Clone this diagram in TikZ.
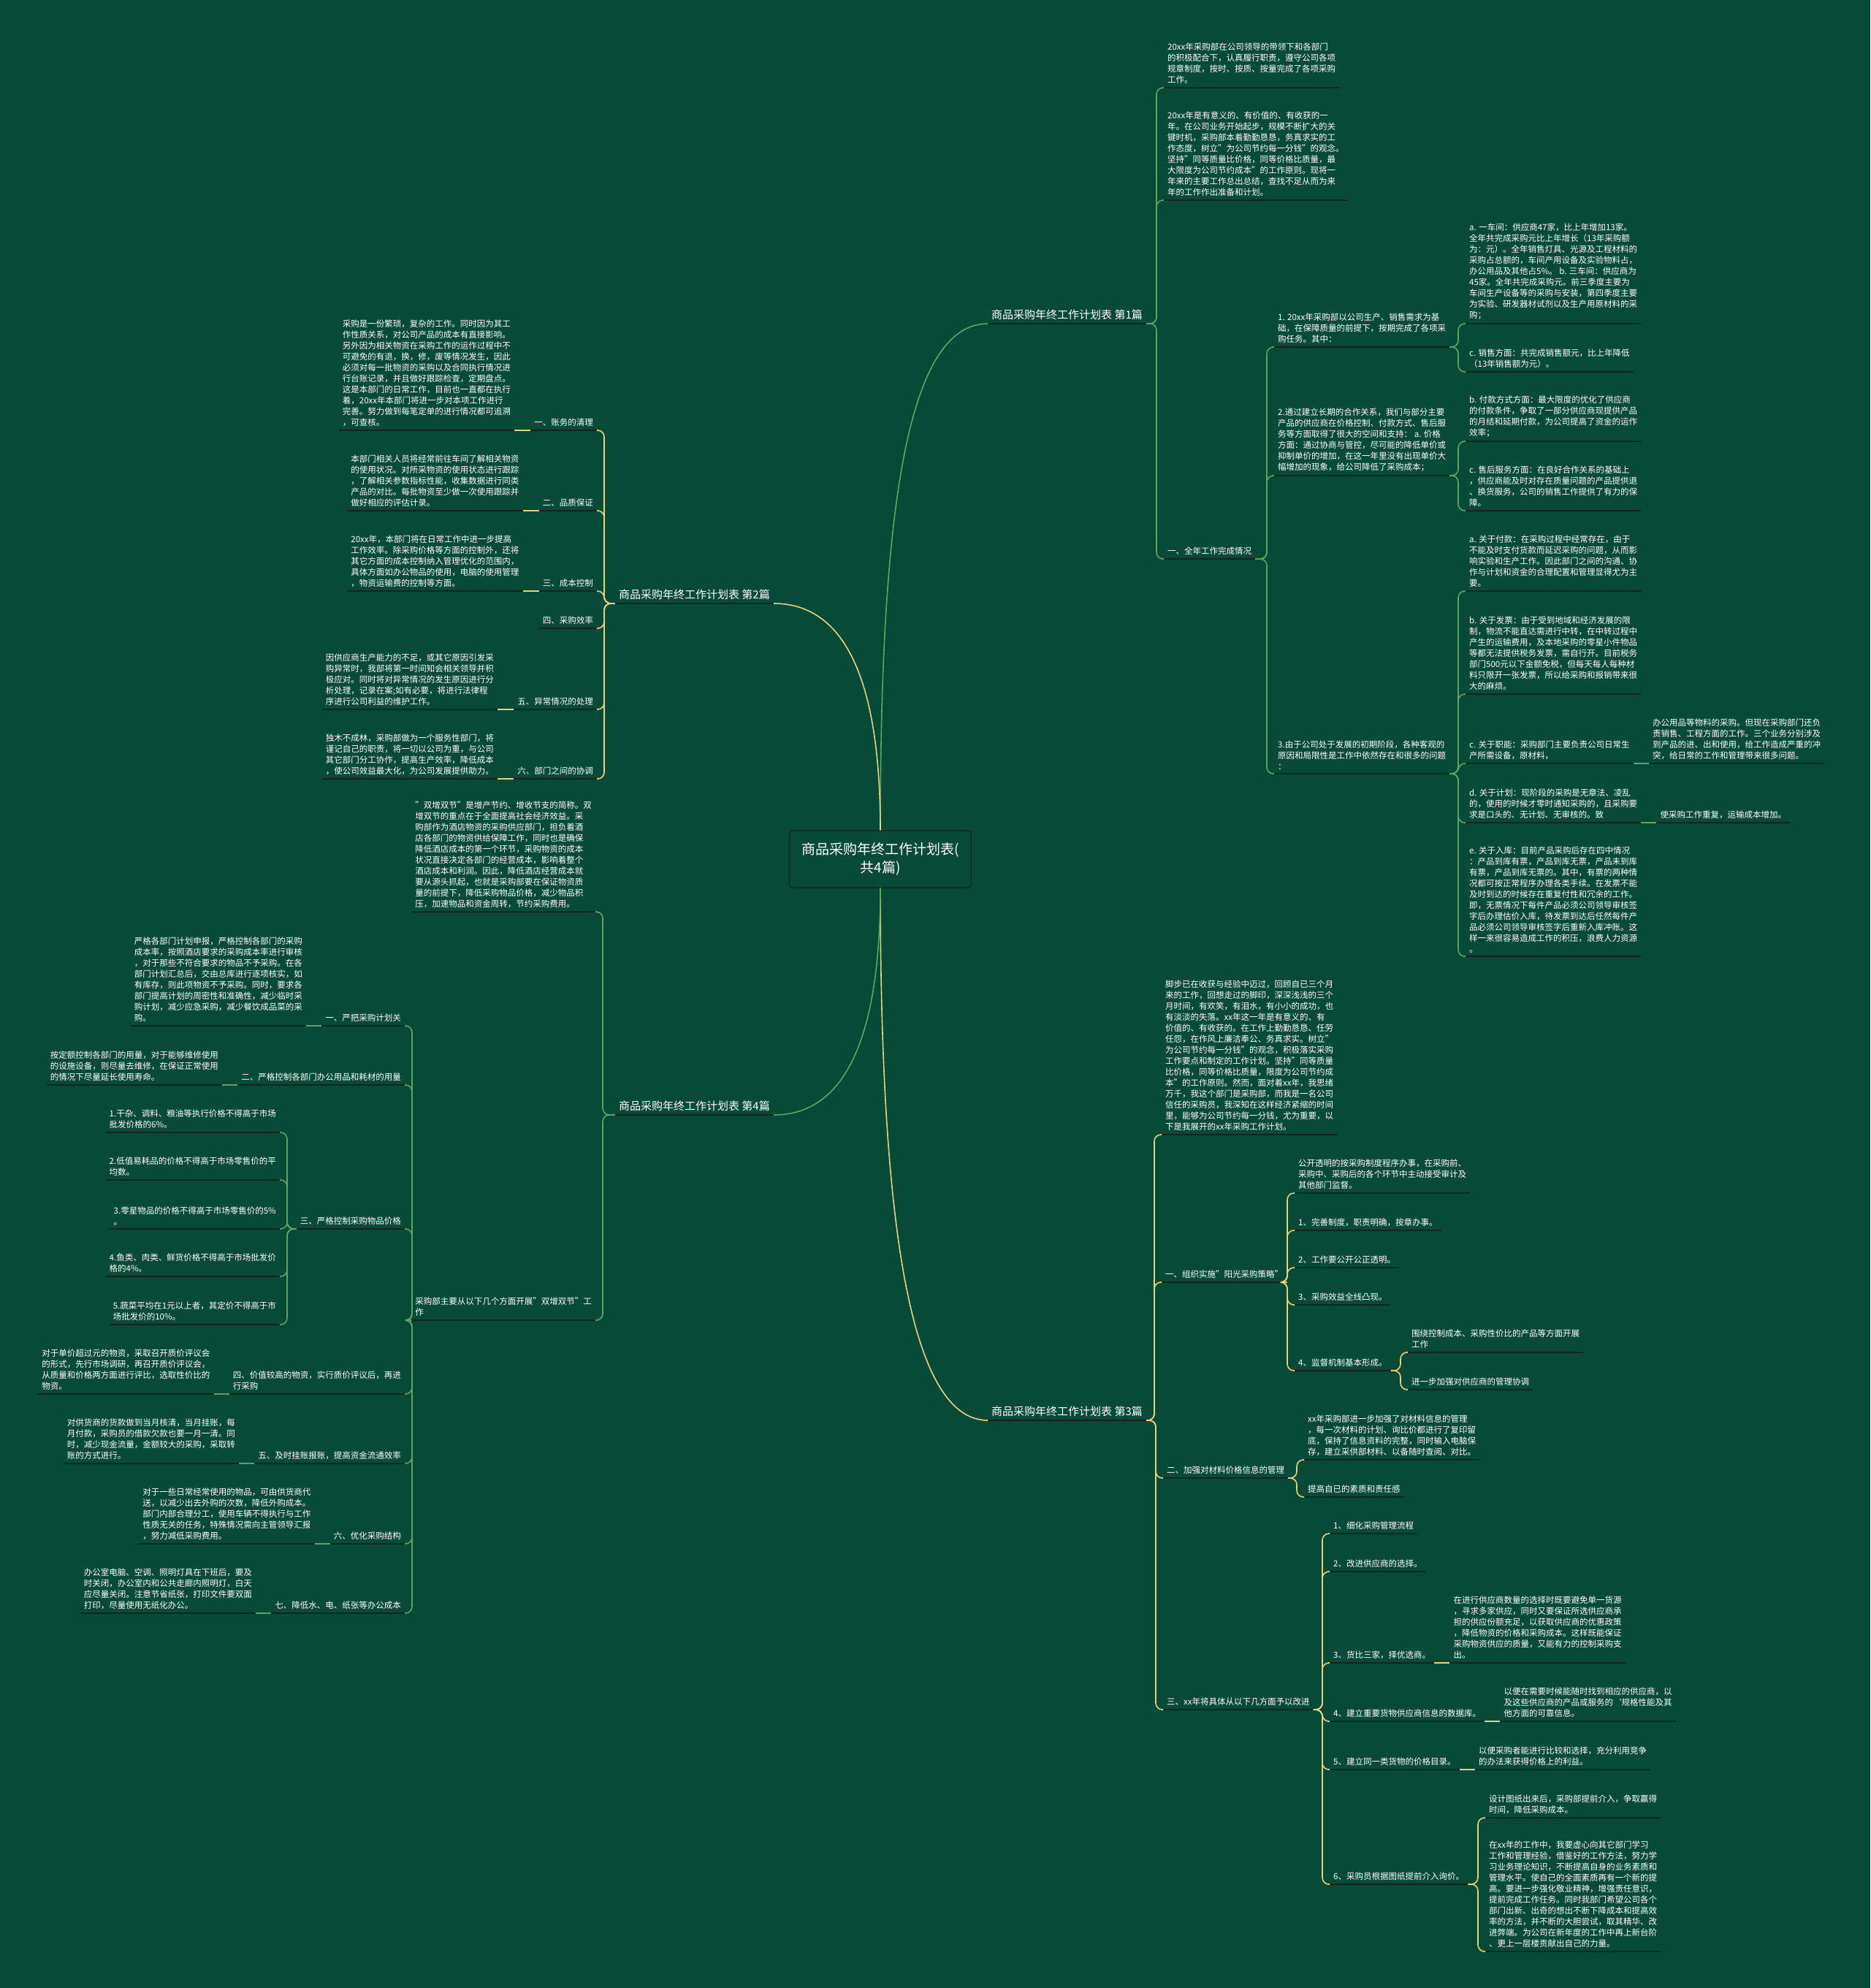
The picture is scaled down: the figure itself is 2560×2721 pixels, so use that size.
\documentclass[tikz,border=0pt]{standalone}
\usepackage{fontspec}
\setmainfont{Noto Sans CJK SC}
\usepackage{tikz}
\definecolor{bgclr}{HTML}{074A38}
\definecolor{ulclr}{HTML}{13251D}
\definecolor{grnclr}{HTML}{5FA463}
\definecolor{yelclr}{HTML}{E6D27E}

\begin{document}
\begin{tikzpicture}[x=1pt,y=-1pt,
  ul/.style={draw=ulclr,line width=2pt},
  tx/.style={align=left,text=white,inner xsep=5pt,inner ysep=5pt,font=\fontsize{11.5}{15}\selectfont,
    append after command={(\tikzlastnode.south west) edge[ul] (\tikzlastnode.south east)}},
  hd/.style={tx,font=\fontsize{15}{19}\selectfont},
  rootbox/.style={draw=ulclr,fill=bgclr,line width=1.2pt,rounded corners=4pt,align=center,text=white,
    font=\fontsize{19}{25}\selectfont,minimum width=249pt,minimum height=78pt},
  lkg/.style={draw=grnclr,line width=1.6pt,rounded corners=9pt},
  lky/.style={draw=yelclr,line width=1.6pt,rounded corners=9pt}]
\fill[bgclr] (0,0) rectangle (2560,2721);
\node[rootbox] (root) at (1205,1176) {商品采购年终工作计划表(\\共4篇)};

\node[hd,anchor=south west] (h1) at (1352,443) {商品采购年终工作计划表 第1篇};
\node[tx,anchor=south west] (a1) at (1593,120) {20xx年采购部在公司领导的带领下和各部门\\的积极配合下，认真履行职责，遵守公司各项\\规章制度，按时、按质、按量完成了各项采购\\工作。};
\node[tx,anchor=south west] (a2) at (1593,274) {20xx年是有意义的、有价值的、有收获的一\\年。在公司业务开始起步，规模不断扩大的关\\键时机，采购部本着勤勤恳恳，务真求实的工\\作态度，树立"为公司节约每一分钱"的观念。\\坚持"同等质量比价格，同等价格比质量，最\\大限度为公司节约成本"的工作原则。现将一\\年来的主要工作总出总结，查找不足从而为来\\年的工作作出准备和计划。};
\node[tx,anchor=south west] (a3) at (1593,765) {一、全年工作完成情况};
\node[tx,anchor=south west] (a31) at (1744,475) {1. 20xx年采购部以公司生产、销售需求为基\\础，在保障质量的前提下，按期完成了各项采\\购任务。其中：};
\node[tx,anchor=south west] (a32) at (1744,651) {2.通过建立长期的合作关系，我们与部分主要\\产品的供应商在价格控制、付款方式、售后服\\务等方面取得了很大的空间和支持： a. 价格\\方面：通过协商与管控，尽可能的降低单价或\\抑制单价的增加，在这一年里没有出现单价大\\幅增加的现象，给公司降低了采购成本；};
\node[tx,anchor=south west] (a33) at (1744,1059) {3.由于公司处于发展的初期阶段，各种客观的\\原因和局限性是工作中依然存在和很多的问题\\：};
\node[tx,anchor=south west] (a311) at (2006,443) {a. 一车间：供应商47家，比上年增加13家。\\全年共完成采购元比上年增长（13年采购额\\为：元）。全年销售灯具、光源及工程材料的\\采购占总额的，车间产用设备及实验物料占，\\办公用品及其他占5\%。 b. 三车间：供应商为\\45家。全年共完成采购元。前三季度主要为\\车间生产设备等的采购与安装，第四季度主要\\为实验、研发器材试剂以及生产用原材料的采\\购；};
\node[tx,anchor=south west] (a312) at (2006,509) {c. 销售方面：共完成销售额元，比上年降低\\（13年销售额为元）。};
\node[tx,anchor=south west] (a321) at (2006,604) {b. 付款方式方面：最大限度的优化了供应商\\的付款条件，争取了一部分供应商现提供产品\\的月结和延期付款，为公司提高了资金的运作\\效率；};
\node[tx,anchor=south west] (a322) at (2006,699) {c. 售后服务方面：在良好合作关系的基础上\\，供应商能及时对存在质量问题的产品提供退\\、换货服务，公司的销售工作提供了有力的保\\障。};
\node[tx,anchor=south west] (a331) at (2006,809) {a.  关于付款：在采购过程中经常存在，由于\\不能及时支付货款而延迟采购的问题，从而影\\响实验和生产工作。因此部门之间的沟通、协\\作与计划和资金的合理配置和管理显得尤为主\\要。};
\node[tx,anchor=south west] (a332) at (2006,950) {b. 关于发票：由于受到地域和经济发展的限\\制，物流不能直达需进行中转，在中转过程中\\产生的运输费用，及本地采购的零星小件物品\\等都无法提供税务发票，需自行开。目前税务\\部门500元以下金额免税，但每天每人每种材\\料只限开一张发票，所以给采购和报销带来很\\大的麻烦。};
\node[tx,anchor=south west] (a333) at (2006,1045) {c. 关于职能：采购部门主要负责公司日常生\\产所需设备，原材料，};
\node[tx,anchor=south west] (a334) at (2006,1126) {d. 关于计划：现阶段的采购是无章法、凌乱\\的，使用的时候才零时通知采购的，且采购要\\求是口头的、无计划、无审核的。致};
\node[tx,anchor=south west] (a335) at (2006,1309) {e. 关于入库：目前产品采购后存在四中情况\\：产品到库有票，产品到库无票，产品未到库\\有票，产品到库无票的。其中，有票的两种情\\况都可按正常程序办理各类手续。在发票不能\\及时到达的时候存在重复付性和冗余的工作。\\即，无票情况下每件产品必须公司领导审核签\\字后办理估价入库，待发票到达后任然每件产\\品必须公司领导审核签字后重新入库冲账。这\\样一来很容易造成工作的积压，浪费人力资源\\。};
\node[tx,anchor=south west] (a333x) at ([xshift=21pt]a333.south east) {办公用品等物料的采购。但现在采购部门还负\\责销售、工程方面的工作。三个业务分别涉及\\到产品的进、出和使用，给工作造成严重的冲\\突，给日常的工作和管理带来很多问题。};
\node[tx,anchor=south west] (a334x) at ([xshift=21pt]a334.south east) {使采购工作重复，运输成本增加。};

\node[hd,anchor=south east] (h2) at (1059,826) {商品采购年终工作计划表 第2篇};
\node[tx,anchor=south east] (b1) at (817,589) {一、账务的清理};
\node[tx,anchor=south east] (b2) at (817,699) {二、品质保证};
\node[tx,anchor=south east] (b3) at (817,809) {三、成本控制};
\node[tx,anchor=south east] (b4) at (817,860) {四、采购效率};
\node[tx,anchor=south east] (b5) at (817,971) {五、异常情况的处理};
\node[tx,anchor=south east] (b6) at (817,1066) {六、部门之间的协调};
\node[tx,anchor=south east] (b1t) at ([xshift=-22pt]b1.south west) {采购是一份繁琐，复杂的工作。同时因为其工\\作性质关系，对公司产品的成本有直接影响。\\另外因为相关物资在采购工作的运作过程中不\\可避免的有退，换，修，废等情况发生，因此\\必须对每一批物资的采购以及合同执行情况进\\行台账记录，并且做好跟踪检查，定期盘点。\\这是本部门的日常工作，目前也一直都在执行\\着，20xx年本部门将进一步对本项工作进行\\完善。努力做到每笔定单的进行情况都可追溯\\，可查核。};
\node[tx,anchor=south east] (b2t) at ([xshift=-22pt]b2.south west) {本部门相关人员将经常前往车间了解相关物资\\的使用状况。对所采物资的使用状态进行跟踪\\，了解相关参数指标性能，收集数据进行同类\\产品的对比。每批物资至少做一次使用跟踪并\\做好相应的评估计录。};
\node[tx,anchor=south east] (b3t) at ([xshift=-22pt]b3.south west) {20xx年，本部门将在日常工作中进一步提高\\工作效率。除采购价格等方面的控制外，还将\\其它方面的成本控制纳入管理优化的范围内，\\具体方面如办公物品的使用，电脑的使用管理\\，物资运输费的控制等方面。};
\node[tx,anchor=south east] (b5t) at ([xshift=-22pt]b5.south west) {因供应商生产能力的不足，或其它原因引发采\\购异常时，我部将第一时间知会相关领导并积\\极应对。同时将对异常情况的发生原因进行分\\析处理，记录在案;如有必要，将进行法律程\\序进行公司利益的维护工作。};
\node[tx,anchor=south east] (b6t) at ([xshift=-22pt]b6.south west) {独木不成林，采购部做为一个服务性部门，将\\谨记自己的职责，将一切以公司为重，与公司\\其它部门分工协作，提高生产效率，降低成本\\，使公司效益最大化，为公司发展提供助力。};

\node[hd,anchor=south west] (h3) at (1352,1944) {商品采购年终工作计划表 第3篇};
\node[tx,anchor=south west] (c1) at (1590,1553) {脚步已在收获与经验中迈过，回顾自已三个月\\来的工作，回想走过的脚印，深深浅浅的三个\\月时间，有欢笑，有泪水，有小小的成功，也\\有淡淡的失落。xx年这一年是有意义的、有\\价值的、有收获的。在工作上勤勤恳恳、任劳\\任怨，在作风上廉洁奉公、务真求实。树立"\\为公司节约每一分钱"的观念，积极落实采购\\工作要点和制定的工作计划。坚持"同等质量\\比价格，同等价格比质量，限度为公司节约成\\本"的工作原则。然而，面对着xx年，我思绪\\万千，我这个部门是采购部，而我是一名公司\\信任的采购员，我深知在这样经济紧缩的时间\\里，能够为公司节约每一分钱，尤为重要，以\\下是我展开的xx年采购工作计划。};
\node[tx,anchor=south west] (c2) at (1590,1755) {一、组织实施"阳光采购策略"};
\node[tx,anchor=south west] (c3) at (1592,2023) {二、加强对材料价格信息的管理};
\node[tx,anchor=south west] (c4) at (1592,2340) {三、xx年将具体从以下几方面予以改进};
\node[tx,anchor=south west] (c21) at (1772,1633) {公开透明的按采购制度程序办事，在采购前、\\采购中、采购后的各个环节中主动接受审计及\\其他部门监督。};
\node[tx,anchor=south west] (c22) at (1772,1684) {1、完善制度，职责明确，按章办事。};
\node[tx,anchor=south west] (c23) at (1772,1735) {2、工作要公开公正透明。};
\node[tx,anchor=south west] (c24) at (1772,1786) {3、采购效益全线凸现。};
\node[tx,anchor=south west] (c25) at (1772,1876) {4、监督机制基本形成。};
\node[tx,anchor=south west] (c251) at (1927,1851) {围绕控制成本、采购性价比的产品等方面开展\\工作};
\node[tx,anchor=south west] (c252) at (1927,1902) {进一步加强对供应商的管理协调};
\node[tx,anchor=south west] (c31) at (1785,1998) {xx年采购部进一步加强了对材料信息的管理\\，每一次材料的计划、询比价都进行了复印留\\底，保持了信息资料的完整，同时输入电脑保\\存，建立采供部材料、以备随时查阅、对比。};
\node[tx,anchor=south west] (c32) at (1785,2049) {提高自已的素质和责任感};
\node[tx,anchor=south west] (c41) at (1820,2099) {1、细化采购管理流程};
\node[tx,anchor=south west] (c42) at (1820,2151) {2、改进供应商的选择。};
\node[tx,anchor=south west] (c43) at (1820,2276) {3、货比三家，择优选商。};
\node[tx,anchor=south west] (c44) at (1820,2356) {4、建立重要货物供应商信息的数据库。};
\node[tx,anchor=south west] (c45) at (1820,2422) {5、建立同一类货物的价格目录。};
\node[tx,anchor=south west] (c46) at (1820,2579) {6、采购员根据图纸提前介入询价。};
\node[tx,anchor=south west] (c43t) at ([xshift=21pt]c43.south east) {在进行供应商数量的选择时既要避免单一货源\\，寻求多家供应，同时又要保证所选供应商承\\担的供应份额充足，以获取供应商的优惠政策\\，降低物资的价格和采购成本。这样既能保证\\采购物资供应的质量，又能有力的控制采购支\\出。};
\node[tx,anchor=south west] (c44t) at ([xshift=21pt]c44.south east) {以便在需要时候能随时找到相应的供应商，以\\及这些供应商的产品或服务的{\char96}规格性能及其\\他方面的可靠信息。};
\node[tx,anchor=south west] (c45t) at ([xshift=21pt]c45.south east) {以便采购者能进行比较和选择，充分利用竞争\\的办法来获得价格上的利益。};
\node[tx,anchor=south west] (c461) at (2033,2488) {设计图纸出来后，采购部提前介入，争取赢得\\时间，降低采购成本。};
\node[tx,anchor=south west] (c462) at (2033,2671) {在xx年的工作中，我要虚心向其它部门学习\\工作和管理经验，借鉴好的工作方法，努力学\\习业务理论知识，不断提高自身的业务素质和\\管理水平。使自己的全面素质再有一个新的提\\高。要进一步强化敬业精神，增强责任意识，\\提前完成工作任务。同时我部门希望公司各个\\部门出新、出奇的想出不断下降成本和提高效\\率的方法，并不断的大胆尝试，取其精华、改\\进弊端。为公司在新年度的工作中再上新台阶\\、更上一层楼贡献出自己的力量。};

\node[hd,anchor=south east] (h4) at (1059,1526) {商品采购年终工作计划表 第4篇};
\node[tx,anchor=south east] (d1) at (815,1248) {"双增双节"是增产节约、增收节支的简称。双\\增双节的重点在于全面提高社会经济效益。采\\购部作为酒店物资的采购供应部门，担负着酒\\店各部门的物资供给保障工作，同时也是确保\\降低酒店成本的第一个环节，采购物资的成本\\状况直接决定各部门的经营成本，影响着整个\\酒店成本和利润。因此，降低酒店经营成本就\\要从源头抓起，也就是采购部要在保证物资质\\量的前提下，降低采购物品价格，减少物品积\\压，加速物品和资金周转，节约采购费用。};
\node[tx,anchor=south east] (d2) at (815,1807) {采购部主要从以下几个方面开展"双增双节"工\\作};
\node[tx,anchor=south east] (d21) at (554,1404) {一、严把采购计划关};
\node[tx,anchor=south east] (d22) at (554,1485) {二、严格控制各部门办公用品和耗材的用量};
\node[tx,anchor=south east] (d23) at (554,1682) {三、严格控制采购物品价格};
\node[tx,anchor=south east] (d24) at (554,1908) {四、价值较高的物资，实行质价评议后，再进\\行采购};
\node[tx,anchor=south east] (d25) at (554,2003) {五、及时挂账报账，提高资金流通效率};
\node[tx,anchor=south east] (d26) at (554,2113) {六、优化采购结构};
\node[tx,anchor=south east] (d27) at (554,2208) {七、降低水、电、纸张等办公成本};
\node[tx,anchor=south east] (d21t) at ([xshift=-21pt]d21.south west) {严格各部门计划申报，严格控制各部门的采购\\成本率，按照酒店要求的采购成本率进行审核\\，对于那些不符合要求的物品不予采购。在各\\部门计划汇总后，交由总库进行逐项核实，如\\有库存，则此项物资不予采购。同时，要求各\\部门提高计划的周密性和准确性，减少临时采\\购计划，减少应急采购，减少餐饮成品菜的采\\购。};
\node[tx,anchor=south east] (d22t) at ([xshift=-21pt]d22.south west) {按定额控制各部门的用量，对于能够维修使用\\的设施设备，则尽量去维修，在保证正常使用\\的情况下尽量延长使用寿命。};
\node[tx,anchor=south east] (d231) at (383,1550) {1.干杂、调料、粮油等执行价格不得高于市场\\批发价格的6\%。};
\node[tx,anchor=south east] (d232) at (383,1615) {2.低值易耗品的价格不得高于市场零售价的平\\均数。};
\node[tx,anchor=south east] (d233) at (383,1682) {3.零星物品的价格不得高于市场零售价的5\%\\。};
\node[tx,anchor=south east] (d234) at (383,1747) {4.鱼类、肉类、鲜货价格不得高于市场批发价\\格的4\%。};
\node[tx,anchor=south east] (d235) at (383,1813) {5.蔬菜平均在1元以上者，其定价不得高于市\\场批发价的10\%。};
\node[tx,anchor=south east] (d24t) at ([xshift=-21pt]d24.south west) {对于单价超过元的物资，采取召开质价评议会\\的形式，先行市场调研，再召开质价评议会，\\从质量和价格两方面进行评比，选取性价比的\\物资。};
\node[tx,anchor=south east] (d25t) at ([xshift=-21pt]d25.south west) {对供货商的货款做到当月核清，当月挂账，每\\月付款，采购员的借款欠款也要一月一清。同\\时，减少现金流量，金额较大的采购，采取转\\账的方式进行。};
\node[tx,anchor=south east] (d26t) at ([xshift=-21pt]d26.south west) {对于一些日常经常使用的物品，可由供货商代\\送，以减少出去外购的次数，降低外购成本。\\部门内部合理分工，使用车辆不得执行与工作\\性质无关的任务，特殊情况需向主管领导汇报\\，努力减低采购费用。};
\node[tx,anchor=south east] (d27t) at ([xshift=-21pt]d27.south west) {办公室电脑、空调、照明灯具在下班后，要及\\时关闭，办公室内和公共走廊内照明灯，白天\\应尽量关闭。注意节省纸张，打印文件要双面\\打印，尽量使用无纸化办公。};

\draw[lkg] (root.north) .. controls +(0,-440) and +(-110,0) .. (h1.south west);
\draw[lky] (root.north) .. controls +(0,-200) and +(100,0) .. (h2.south east);
\draw[lky] (root.south) .. controls +(0,440) and +(-110,0) .. (h3.south west);
\draw[lkg] (root.south) .. controls +(0,200) and +(100,0) .. (h4.south east);

\draw[lkg] (h1.south east) -| ([xshift=-10pt]a1.south west) -- (a1.south west);
\draw[lkg] (h1.south east) -| ([xshift=-10pt]a2.south west) -- (a2.south west);
\draw[lkg] (h1.south east) -| ([xshift=-10pt]a3.south west) -- (a3.south west);
\draw[lkg] (a3.south east) -| ([xshift=-10pt]a31.south west) -- (a31.south west);
\draw[lkg] (a3.south east) -| ([xshift=-10pt]a32.south west) -- (a32.south west);
\draw[lkg] (a3.south east) -| ([xshift=-10pt]a33.south west) -- (a33.south west);
\draw[lkg] (a31.south east) -| ([xshift=-10pt]a311.south west) -- (a311.south west);
\draw[lkg] (a31.south east) -| ([xshift=-10pt]a312.south west) -- (a312.south west);
\draw[lkg] (a32.south east) -| ([xshift=-10pt]a321.south west) -- (a321.south west);
\draw[lkg] (a32.south east) -| ([xshift=-10pt]a322.south west) -- (a322.south west);
\draw[lkg] (a33.south east) -| ([xshift=-10pt]a331.south west) -- (a331.south west);
\draw[lkg] (a33.south east) -| ([xshift=-10pt]a332.south west) -- (a332.south west);
\draw[lkg] (a33.south east) -| ([xshift=-10pt]a333.south west) -- (a333.south west);
\draw[lkg] (a33.south east) -| ([xshift=-10pt]a334.south west) -- (a334.south west);
\draw[lkg] (a33.south east) -| ([xshift=-10pt]a335.south west) -- (a335.south west);
\draw[lkg] (a333.south east) -- (a333x.south west);
\draw[lkg] (a334.south east) -- (a334x.south west);

\draw[lky] (h2.south west) -| ([xshift=10pt]b1.south east) -- (b1.south east);
\draw[lky] (h2.south west) -| ([xshift=10pt]b2.south east) -- (b2.south east);
\draw[lky] (h2.south west) -| ([xshift=10pt]b3.south east) -- (b3.south east);
\draw[lky] (h2.south west) -| ([xshift=10pt]b4.south east) -- (b4.south east);
\draw[lky] (h2.south west) -| ([xshift=10pt]b5.south east) -- (b5.south east);
\draw[lky] (h2.south west) -| ([xshift=10pt]b6.south east) -- (b6.south east);
\draw[lky] (b1.south west) -- (b1t.south east);
\draw[lky] (b2.south west) -- (b2t.south east);
\draw[lky] (b3.south west) -- (b3t.south east);
\draw[lky] (b5.south west) -- (b5t.south east);
\draw[lky] (b6.south west) -- (b6t.south east);

\draw[lky] (h3.south east) -| ([xshift=-10pt]c1.south west) -- (c1.south west);
\draw[lky] (h3.south east) -| ([xshift=-10pt]c2.south west) -- (c2.south west);
\draw[lky] (h3.south east) -| ([xshift=-10pt]c3.south west) -- (c3.south west);
\draw[lky] (h3.south east) -| ([xshift=-10pt]c4.south west) -- (c4.south west);
\draw[lky] (c2.south east) -| ([xshift=-10pt]c21.south west) -- (c21.south west);
\draw[lky] (c2.south east) -| ([xshift=-10pt]c22.south west) -- (c22.south west);
\draw[lky] (c2.south east) -| ([xshift=-10pt]c23.south west) -- (c23.south west);
\draw[lky] (c2.south east) -| ([xshift=-10pt]c24.south west) -- (c24.south west);
\draw[lky] (c2.south east) -| ([xshift=-10pt]c25.south west) -- (c25.south west);
\draw[lky] (c25.south east) -| ([xshift=-10pt]c251.south west) -- (c251.south west);
\draw[lky] (c25.south east) -| ([xshift=-10pt]c252.south west) -- (c252.south west);
\draw[lky] (c3.south east) -| ([xshift=-10pt]c31.south west) -- (c31.south west);
\draw[lky] (c3.south east) -| ([xshift=-10pt]c32.south west) -- (c32.south west);
\draw[lky] (c4.south east) -| ([xshift=-10pt]c41.south west) -- (c41.south west);
\draw[lky] (c4.south east) -| ([xshift=-10pt]c42.south west) -- (c42.south west);
\draw[lky] (c4.south east) -| ([xshift=-10pt]c43.south west) -- (c43.south west);
\draw[lky] (c4.south east) -| ([xshift=-10pt]c44.south west) -- (c44.south west);
\draw[lky] (c4.south east) -| ([xshift=-10pt]c45.south west) -- (c45.south west);
\draw[lky] (c4.south east) -| ([xshift=-10pt]c46.south west) -- (c46.south west);
\draw[lky] (c43.south east) -- (c43t.south west);
\draw[lky] (c44.south east) -- (c44t.south west);
\draw[lky] (c45.south east) -- (c45t.south west);
\draw[lky] (c46.south east) -| ([xshift=-10pt]c461.south west) -- (c461.south west);
\draw[lky] (c46.south east) -| ([xshift=-10pt]c462.south west) -- (c462.south west);

\draw[lkg] (h4.south west) -| ([xshift=10pt]d1.south east) -- (d1.south east);
\draw[lkg] (h4.south west) -| ([xshift=10pt]d2.south east) -- (d2.south east);
\draw[lkg] (d2.south west) -| ([xshift=10pt]d21.south east) -- (d21.south east);
\draw[lkg] (d2.south west) -| ([xshift=10pt]d22.south east) -- (d22.south east);
\draw[lkg] (d2.south west) -| ([xshift=10pt]d23.south east) -- (d23.south east);
\draw[lkg] (d2.south west) -| ([xshift=10pt]d24.south east) -- (d24.south east);
\draw[lkg] (d2.south west) -| ([xshift=10pt]d25.south east) -- (d25.south east);
\draw[lkg] (d2.south west) -| ([xshift=10pt]d26.south east) -- (d26.south east);
\draw[lkg] (d2.south west) -| ([xshift=10pt]d27.south east) -- (d27.south east);
\draw[lkg] (d21.south west) -- (d21t.south east);
\draw[lkg] (d22.south west) -- (d22t.south east);
\draw[lkg] (d23.south west) -| ([xshift=10pt]d231.south east) -- (d231.south east);
\draw[lkg] (d23.south west) -| ([xshift=10pt]d232.south east) -- (d232.south east);
\draw[lkg] (d23.south west) -| ([xshift=10pt]d233.south east) -- (d233.south east);
\draw[lkg] (d23.south west) -| ([xshift=10pt]d234.south east) -- (d234.south east);
\draw[lkg] (d23.south west) -| ([xshift=10pt]d235.south east) -- (d235.south east);
\draw[lkg] (d24.south west) -- (d24t.south east);
\draw[lkg] (d25.south west) -- (d25t.south east);
\draw[lkg] (d26.south west) -- (d26t.south east);
\draw[lkg] (d27.south west) -- (d27t.south east);
\end{tikzpicture}
\end{document}
